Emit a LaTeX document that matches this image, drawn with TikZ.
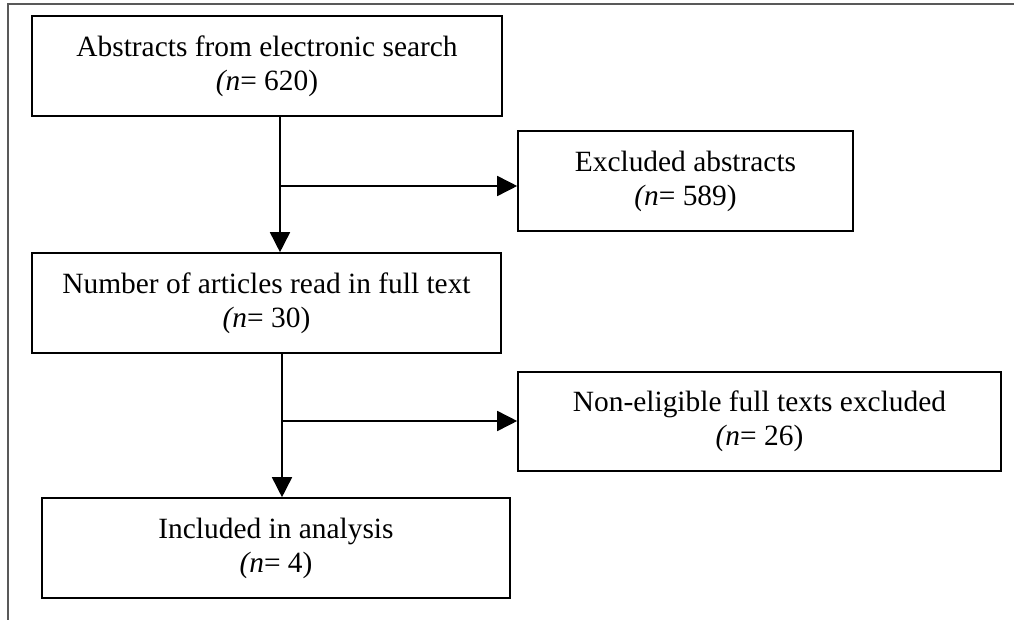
\documentclass[tikz,border=0pt]{standalone}
\usepackage{fontspec}
\setmainfont{Liberation Serif}
\usetikzlibrary{arrows.meta}
\tikzset{
  box/.style={draw, line width=1.6pt, align=center, inner sep=0pt,
    font=\fontsize{29.4}{34}\selectfont},
  arr/.style={line width=1.6pt, -{Triangle[length=20pt,width=20pt]}},
  frame/.style={draw=black!65, line width=1.8pt}
}
\begin{document}
\begin{tikzpicture}[x=1pt,y=-1pt]
\useasboundingbox (0,0) rectangle (1014,620);
% frame
\draw[frame] (8,620)--(8,4)--(1014,4);
% boxes
\node[box, minimum width=470pt, minimum height=100pt] (search) at (267,66)
  {Abstracts from electronic search\\\textit{(n}= 620)};
\node[box, minimum width=335pt, minimum height=100pt] (excl) at (685.5,181)
  {Excluded abstracts\\\textit{(n}= 589)};
\node[box, minimum width=469pt, minimum height=100pt] (fulltext) at (266.5,303)
  {Number of articles read in full text\\\textit{(n}= 30)};
\node[box, minimum width=483pt, minimum height=99pt] (nonelig) at (759.5,421.5)
  {Non-eligible full texts excluded\\\textit{(n}= 26)};
\node[box, minimum width=468pt, minimum height=100pt] (incl) at (276,548)
  {Included in analysis\\\textit{(n}= 4)};
% arrows
\coordinate (split1) at (280,186);
\coordinate (split2) at (282,421);
\draw[arr] (search.south -| split1) -- (fulltext.north -| split1);
\draw[arr] (split1) -- (split1 -| excl.west);
\draw[arr] (fulltext.south -| split2) -- (incl.north -| split2);
\draw[arr] (split2) -- (split2 -| nonelig.west);
\end{tikzpicture}
\end{document}
